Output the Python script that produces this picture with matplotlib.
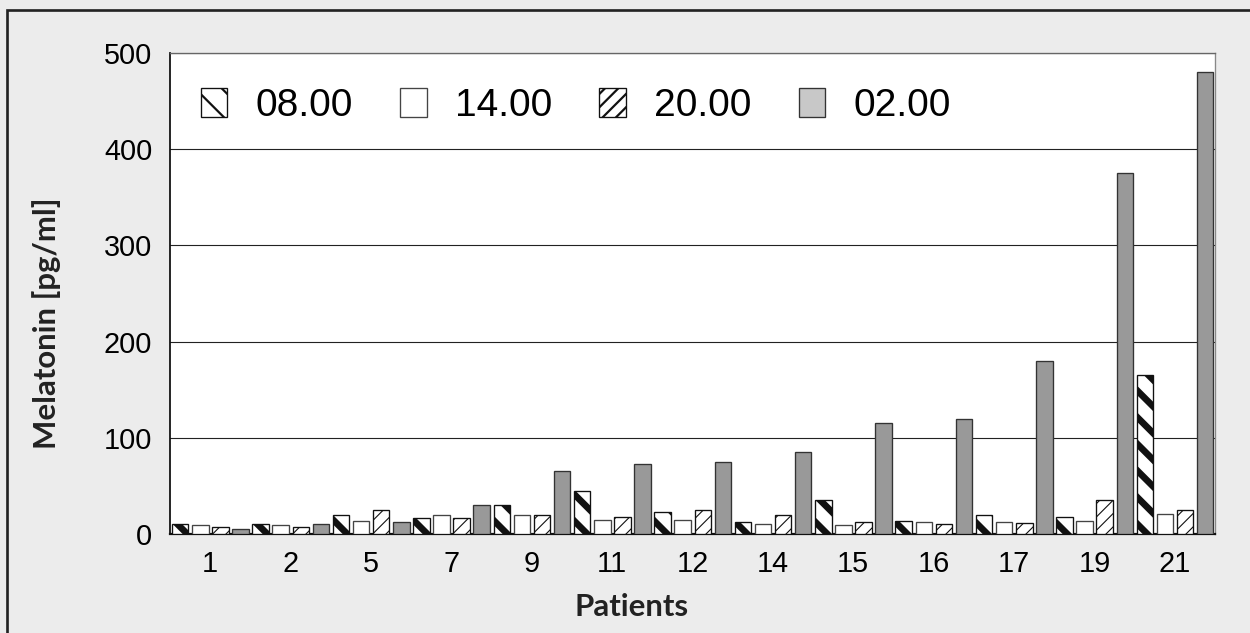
import matplotlib
matplotlib.use("Agg")
import matplotlib.pyplot as plt
import numpy as np
from matplotlib.patches import Patch, Rectangle

# ── Data ─────────────────────────────────────────────────────────────────────
patients = ["1", "2", "5", "7", "9", "11", "12", "14", "15", "16", "17", "19", "21"]
series_labels = ["08.00", "14.00", "20.00", "02.00"]
mel_08 = [10, 10, 20, 17, 30, 45, 23, 12, 35, 14, 20, 18, 165]
mel_14 = [9, 9, 14, 20, 20, 15, 15, 10, 9, 12, 12, 14, 21]
mel_20 = [7, 7, 25, 17, 20, 18, 25, 20, 12, 10, 11, 35, 25]
mel_02 = [5, 10, 12, 30, 65, 73, 75, 85, 115, 120, 180, 375, 480]
y_ticks = [0, 100, 200, 300, 400, 500]

# ── Styles ───────────────────────────────────────────────────────────────────
DPI = 160
BG = "#ececec"
styles = [
    dict(facecolor="white", edgecolor="#111111", hatch="\\\\", hlw=3.0),
    dict(facecolor="white", edgecolor="#444444", hatch=None, hlw=0.5),
    dict(facecolor="white", edgecolor="#111111", hatch="////", hlw=0.5),
    dict(facecolor="#999999", edgecolor="#333333", hatch=None, hlw=0.5),
]
legend_face = ["white", "white", "white", "#c8c8c8"]

fig = plt.figure(figsize=(1250 / DPI, 633 / DPI), dpi=DPI, facecolor=BG)
ax = fig.add_axes([170 / 1250, 1 - 534 / 633, 1045 / 1250, 481 / 633])
ax.set_facecolor("white")

x = np.arange(len(patients))
width = 0.205
values = [mel_08, mel_14, mel_20, mel_02]

for j, (vals, st) in enumerate(zip(values, styles)):
    with plt.rc_context({"hatch.linewidth": st["hlw"], "hatch.color": "black"}):
        bars = ax.bar(
            x + 0.1275 + 0.25 * j, vals, width=width,
            facecolor=st["facecolor"], edgecolor=st["edgecolor"],
            hatch=st["hatch"], linewidth=0.6, zorder=3,
        )
    for b in bars:
        if hasattr(b, "set_hatch_linewidth"):
            b.set_hatch_linewidth(st["hlw"])

ax.set_xlim(0, len(patients))
ax.set_ylim(0, 500)
ax.set_yticks(y_ticks)
ax.set_xticks(x + 0.5)
ax.set_xticklabels(patients)
ax.tick_params(length=0, labelsize=13)
ax.tick_params(axis="y", pad=8)
ax.tick_params(axis="x", pad=7)
for lbl in ax.get_xticklabels() + ax.get_yticklabels():
    lbl.set_fontfamily("Liberation Sans")

ax.yaxis.grid(True, color="#222222", lw=0.5)
ax.set_axisbelow(True)

ax.spines["left"].set_color("#111111")
ax.spines["left"].set_linewidth(0.8)
ax.spines["bottom"].set_color("#111111")
ax.spines["bottom"].set_linewidth(1.0)
ax.spines["top"].set_color("#666666")
ax.spines["top"].set_linewidth(0.6)
ax.spines["right"].set_color("#888888")
ax.spines["right"].set_linewidth(0.6)

ax.set_ylabel("Melatonin [pg/ml]", fontsize=14, fontweight="bold",
              family="Lato", color="#222222")
ax.yaxis.set_label_coords(-0.104, 0.438)
ax.set_xlabel("Patients", fontsize=14, fontweight="bold",
              family="Lato", color="#222222")
ax.xaxis.set_label_coords(0.442, -0.122)

# legend
handles = []
for st, fc in zip(styles, legend_face):
    with plt.rc_context({"hatch.linewidth": st["hlw"], "hatch.color": "black"}):
        p = Patch(facecolor=fc, edgecolor=st["edgecolor"], hatch=st["hatch"], linewidth=0.6)
    if hasattr(p, "set_hatch_linewidth"):
        p.set_hatch_linewidth(st["hlw"])
    handles.append(p)
leg = ax.legend(
    handles, series_labels, ncol=4, loc="upper left",
    bbox_to_anchor=(31 / 1045, 1 - 35 / 481), borderaxespad=0, borderpad=0,
    frameon=False, prop={"family": "Liberation Sans", "size": 17.5},
    handlelength=0.68, handleheight=0.75, handletextpad=0.72, columnspacing=1.22,
)

# frame lines of the figure panel (top and left only)
fig.patches.append(Rectangle((7 / 1250, -0.1), 1.2, 1.1 - 10 / 633, transform=fig.transFigure,
                             fill=False, edgecolor="#222222", linewidth=1.2))

fig.savefig("out.png", dpi=DPI, facecolor=BG)
